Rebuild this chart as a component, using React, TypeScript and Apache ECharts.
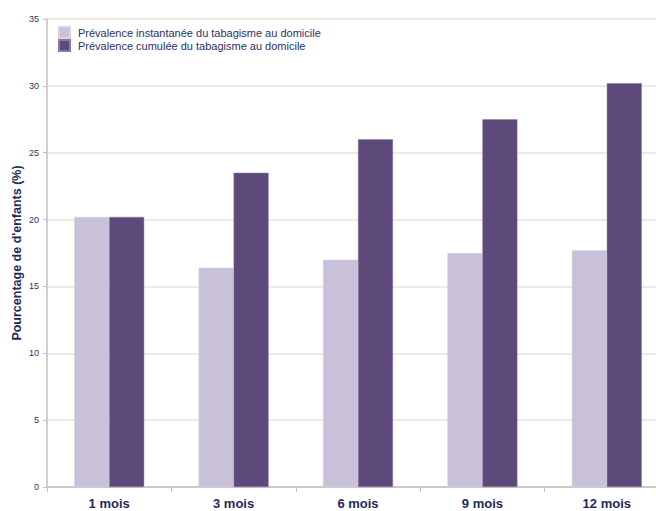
import React, { useEffect, useRef } from "react";
import * as echarts from "echarts";

const categories = ["1 mois", "3 mois", "6 mois", "9 mois", "12 mois"];
const instantanee = [20.2, 16.4, 17.0, 17.5, 17.7];
const cumulee = [20.2, 23.5, 26.0, 27.5, 30.2];
const seriesNames = [
  "Prévalence instantanée du tabagisme au domicile",
  "Prévalence cumulée du tabagisme au domicile",
];

export default function App() {
  const ref = useRef<HTMLDivElement>(null);
  useEffect(() => {
    if (!ref.current) return;
    const chart = echarts.init(ref.current, undefined, { renderer: "svg" });
    const font = "Arial, 'Liberation Sans', sans-serif";
    chart.setOption({
      animation: false,
      backgroundColor: "#ffffff",
      grid: {
        left: 47,
        top: 19,
        width: 622,
        bottom: 24,
        containLabel: false,
        outerBoundsMode: "none",
      },
      legend: {
        left: 53,
        top: 21,
        orient: "vertical",
        icon: "rect",
        itemWidth: 11,
        itemHeight: 11,
        itemGap: 0,
        textStyle: { fontFamily: font, fontSize: 11, lineHeight: 12, color: "#2B2F6B", padding: [0, 0, 0, 3] },
        data: seriesNames,
      },
      xAxis: {
        type: "category",
        data: categories,
        axisLine: { lineStyle: { color: "#BFBFBF", width: 1.5 } },
        axisTick: { show: true, alignWithLabel: false, length: 5, lineStyle: { color: "#BFBFBF" } },
        axisLabel: { fontFamily: font, fontSize: 13, fontWeight: "bold", color: "#1F2A5C", margin: 10 },
      },
      yAxis: {
        type: "value",
        min: 0,
        max: 35,
        interval: 5,
        name: "Pourcentage de d'enfants (%)",
        nameLocation: "middle",
        nameGap: 24,
        nameMoveOverlap: false,
        nameTextStyle: { fontFamily: font, fontSize: 12.5, fontWeight: "bold", color: "#1F2A5C" },
        axisLine: { show: true, lineStyle: { color: "#BFBFBF", width: 1.5 } },
        axisTick: { show: true, length: 4, lineStyle: { color: "#BFBFBF" } },
        axisLabel: { fontFamily: font, fontSize: 9, color: "#2B2F6B", margin: 8 },
        splitLine: { lineStyle: { color: "#E8E4D6", width: 1.5 } },
      },
      series: [
        {
          name: seriesNames[0],
          type: "bar",
          data: instantanee,
          barWidth: 35,
          barGap: "0%",
          itemStyle: { color: "#C9C0DA", borderColor: "#D8D1E5", borderWidth: 0.5 },
        },
        {
          name: seriesNames[1],
          type: "bar",
          data: cumulee,
          barWidth: 35,
          barGap: "0%",
          itemStyle: { color: "#5D4A7A", borderColor: "#8A7BA5", borderWidth: 0.5 },
        },
      ],
    });
    return () => chart.dispose();
  }, []);
  return (
    <div
      ref={ref}
      style={{ position: "fixed", left: 0, top: 0, width: 656, height: 511 }}
    />
  );
}
